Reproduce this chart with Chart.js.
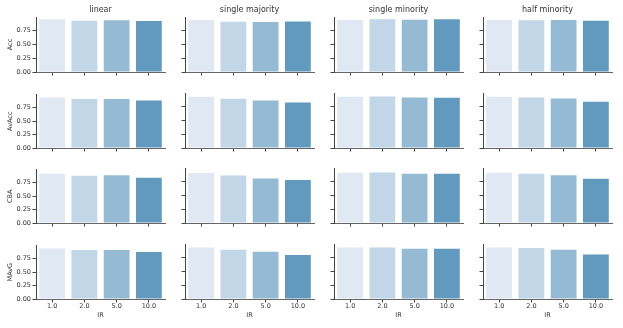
<!DOCTYPE html>
<html>
<head>
<meta charset="utf-8">
<script src="https://cdn.jsdelivr.net/npm/chart.js@4/dist/chart.umd.min.js"></script>
<style>
  html, body { margin: 0; padding: 0; background: #fff; width: 623px; height: 328px; overflow: hidden; }
  canvas { position: absolute; }
</style>
</head>
<body>
<script>
  // facets: columns = setting, rows = metric, bars = IR
  const colTitles = ['linear', 'single majority', 'single minority', 'half minority']
  const rowNames = ['Acc', 'AvAcc', 'CBA', 'MAvG']
  const irLabels = ['1.0', '2.0', '5.0', '10.0']
  const yTicks = [0, 0.25, 0.5, 0.75]

  // one list per metric, one inner list per column (linear, single maj, single min, half min)
  const acc = [
    [0.958, 0.930, 0.940, 0.927],
    [0.945, 0.914, 0.910, 0.920],
    [0.945, 0.958, 0.950, 0.958],
    [0.945, 0.940, 0.945, 0.930]
  ]
  const avAcc = [
    [0.940, 0.913, 0.913, 0.888],
    [0.930, 0.895, 0.864, 0.828],
    [0.930, 0.936, 0.918, 0.913],
    [0.930, 0.918, 0.900, 0.840]
  ]
  const cba = [
    [0.920, 0.883, 0.890, 0.846],
    [0.908, 0.865, 0.810, 0.780],
    [0.914, 0.920, 0.896, 0.896],
    [0.914, 0.896, 0.870, 0.804]
  ]
  const mavg = [
    [0.944, 0.914, 0.914, 0.877],
    [0.938, 0.895, 0.859, 0.798],
    [0.938, 0.938, 0.914, 0.914],
    [0.938, 0.926, 0.895, 0.810]
  ]
  const metrics = [acc, avAcc, cba, mavg]

  const barColors = ['#dfe8f3', '#c1d6e7', '#94bbd3', '#6199bf']

  const colLeft = [36, 185, 334, 483]
  const rowTop = [17, 93, 168, 244]
  const axW = 129
  const axH = 55

  const tickFont = { family: 'DejaVu Sans', size: 6.5 }
  const textColor = '#333'

  for (let r = 0; r < 4; r++) {
    for (let c = 0; c < 4; c++) {
      const padL = c === 0 ? 36 : 6
      const padR = 4
      const padT = r === 0 ? 0 : 4
      const padB = r === 3 ? 24 : 6
      const titleH = r === 0 ? 17 : 0

      const canvas = document.createElement('canvas')
      const w = axW + padL + padR
      const h = axH + padT + titleH + padB
      canvas.width = w
      canvas.height = h
      canvas.style.left = (colLeft[c] - padL) + 'px'
      canvas.style.top = (rowTop[r] - padT - titleH) + 'px'
      canvas.style.width = w + 'px'
      canvas.style.height = h + 'px'
      document.body.appendChild(canvas)

      new Chart(canvas, {
        type: 'bar',
        data: {
          labels: irLabels,
          datasets: [{
            data: metrics[r][c],
            backgroundColor: barColors,
            borderWidth: 0,
            barPercentage: 0.8,
            categoryPercentage: 1.0
          }]
        },
        options: {
          responsive: false,
          animation: false,
          devicePixelRatio: 1,
          layout: { padding: { left: 0, right: padR, top: padT, bottom: 0 } },
          plugins: {
            legend: { display: false },
            tooltip: { enabled: false },
            title: {
              display: r === 0,
              text: colTitles[c],
              fullSize: false,
              color: textColor,
              font: { family: 'DejaVu Sans', size: 8, weight: 'normal' },
              padding: { top: 5.2, bottom: 2.2 }
            }
          },
          scales: {
            x: {
              afterFit: s => { s.height = padB },
              border: { color: '#666', width: 1 },
              grid: { drawOnChartArea: false, offset: false, tickLength: 3.5, tickColor: '#444' },
              ticks: { display: r === 3, padding: 0, font: tickFont, color: textColor, maxRotation: 0, autoSkip: false },
              title: { display: r === 3, text: 'IR', font: tickFont, color: textColor, padding: { top: 0, bottom: 3.8 } }
            },
            y: {
              min: 0,
              max: 1,
              afterBuildTicks: s => { s.ticks = yTicks.map(v => ({ value: v })) },
              afterFit: s => { s.width = padL },
              border: { color: '#444', width: 1 },
              grid: { drawOnChartArea: false, tickLength: 3.5, tickColor: '#444' },
              ticks: { display: c === 0, padding: 1.5, font: tickFont, color: textColor, callback: v => Number(v).toFixed(2) },
              title: { display: c === 0, text: rowNames[r], font: tickFont, color: textColor, padding: { top: 6.5, bottom: 0 } }
            }
          }
        }
      })
    }
  }
</script>
</body>
</html>
